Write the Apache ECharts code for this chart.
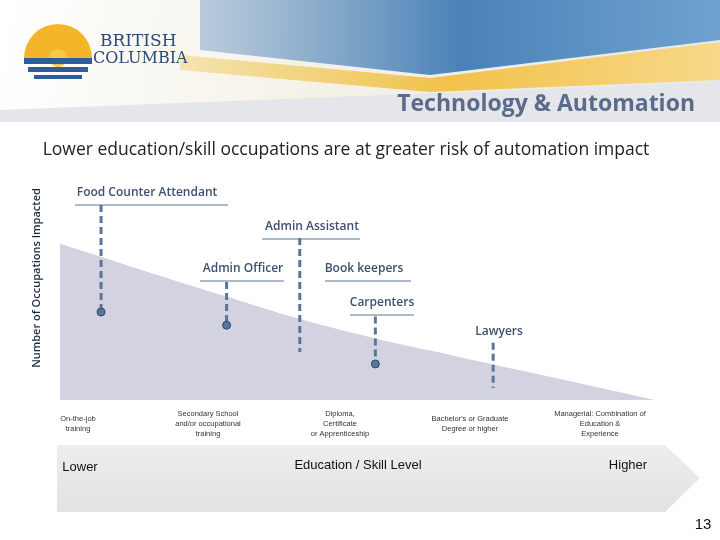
<!DOCTYPE html>
<html><head><meta charset="utf-8">
<script src="https://cdn.jsdelivr.net/npm/echarts@6/dist/echarts.min.js"></script>
<style>html,body{margin:0;background:#fff}#c{width:720px;height:540px}</style>
</head><body><div id="c"></div>
<script>
// skill level (0-100) vs relative number of occupations impacted
var curveX = [0, 7, 15, 28, 40, 53, 63, 73, 85, 100];
var curveY = [71, 65, 58, 47, 37, 28, 22, 16, 9, 0];
var occNames = ['Food Counter Attendant', 'Admin Officer', 'Admin Assistant', 'Carpenters', 'Lawyers'];
var occX = [6.9, 28, 40.3, 53, 72.8];
var occTop = [88.6, 53.6, 73.6, 38, 26];
var occBottom = [40, 34, 21.8, 16.4, 5.5];
var occDot = [true, true, false, true, false];
var levelLabels = ['On-the-job\ntraining', 'Secondary School\nand/or occupational\ntraining',
  'Diploma,\nCertificate\nor Apprenticeship', "Bachelor's or Graduate\nDegree or higher",
  'Managerial: Combination of\nEducation &\nExperience'];
var levelPx = [78, 208, 340, 470, 600];

var chart = echarts.init(document.getElementById('c'));
var lineColor = '#5b7597';

var series = [{
  type: 'line', data: curveX.map(function (x, i) { return [x, curveY[i]]; }),
  smooth: 0.4, symbol: 'none', lineStyle: { width: 0 },
  areaStyle: { color: '#d2d2e0', opacity: 1 }, z: 1
}];
occNames.forEach(function (n, i) {
  series.push({
    type: 'line', name: n, data: [[occX[i], occTop[i]], [occX[i], occBottom[i]]],
    lineStyle: { color: lineColor, width: 3, type: [7, 4] },
    symbol: function (v) { return (occDot[i] && v[1] === occBottom[i]) ? 'circle' : 'none'; },
    symbolSize: 8, itemStyle: { color: lineColor, borderColor: '#2f4a6e', borderWidth: 1 },
    z: 3
  });
});

// occupation labels with underline (pixel layout)
var labels = [
  { t: 'Food Counter Attendant', x: 147, y: 193, u: [75, 228] },
  { t: 'Admin Assistant', x: 312, y: 227, u: [262, 360] },
  { t: 'Admin Officer', x: 243, y: 269, u: [200, 284] },
  { t: 'Book keepers', x: 364, y: 269, u: [325, 411] },
  { t: 'Carpenters', x: 382, y: 303, u: [350, 414] },
  { t: 'Lawyers', x: 499, y: 332, u: null }
];
var g = [];
// header
g.push({ type: 'rect', shape: { x: 0, y: 0, width: 720, height: 122 },
  style: { fill: new echarts.graphic.LinearGradient(0, 0, 1, 1, [
    { offset: 0, color: '#ffffff' }, { offset: 0.45, color: '#f4f1e6' }, { offset: 1, color: '#e6e9ee' }]) } });
g.push({ type: 'polygon', shape: { points: [[200, 0], [720, 0], [720, 40], [430, 75], [200, 50]] },
  style: { fill: new echarts.graphic.LinearGradient(0, 0, 1, 0, [
    { offset: 0, color: 'rgba(120,160,200,0.5)' }, { offset: 0.5, color: '#4a82b8' }, { offset: 1, color: '#6fa2cf' }]) } });
g.push({ type: 'polygon', shape: { points: [[180, 55], [430, 78], [720, 42], [720, 80], [430, 92], [180, 70]] },
  style: { fill: new echarts.graphic.LinearGradient(0, 0, 1, 0, [
    { offset: 0, color: 'rgba(240,200,80,0.4)' }, { offset: 0.5, color: '#f2c24a' }, { offset: 1, color: '#f7d98a' }]) } });
g.push({ type: 'polygon', shape: { points: [[0, 110], [720, 82], [720, 122], [0, 122]] },
  style: { fill: '#e4e6ea' } });
// logo
g.push({ type: 'sector', shape: { cx: 58, cy: 58, r0: 8, r: 34, startAngle: Math.PI, endAngle: 2 * Math.PI },
  style: { fill: '#f3b62a' } });
g.push({ type: 'circle', shape: { cx: 58, cy: 58, r: 9 }, style: { fill: '#f7c948' } });
g.push({ type: 'rect', shape: { x: 24, y: 58, width: 68, height: 6 }, style: { fill: '#2e5e9a' } });
g.push({ type: 'rect', shape: { x: 28, y: 67, width: 60, height: 5 }, style: { fill: '#2e5e9a' } });
g.push({ type: 'rect', shape: { x: 34, y: 75, width: 48, height: 4 }, style: { fill: '#2e5e9a' } });
g.push({ type: 'text', style: { text: 'BRITISH', x: 100, y: 33, fill: '#2c4a7a', font: '17px "DejaVu Serif"' } });
g.push({ type: 'text', style: { text: 'COLUMBIA', x: 93, y: 51, fill: '#2c4a7a', font: '16px "DejaVu Serif"' } });
g.push({ type: 'text', style: { text: 'Technology & Automation', x: 695, y: 104, align: 'right', verticalAlign: 'middle',
  fill: '#5a6b8c', font: 'bold 23px "Open Sans"' } });
g.push({ type: 'text', style: { text: 'Lower education/skill occupations are at greater risk of automation impact',
  x: 346, y: 150, align: 'center', verticalAlign: 'middle', fill: '#222', font: '17.5px "Open Sans"' } });
g.push({ type: 'text', rotation: Math.PI / 2, x: 37, y: 278,
  style: { text: 'Number of Occupations Impacted', align: 'center', verticalAlign: 'middle', fill: '#1a2a40', font: '600 11px "Open Sans"' } });
labels.forEach(function (l) {
  g.push({ type: 'text', z: 10, style: { text: l.t, x: l.x, y: l.y, align: 'center', verticalAlign: 'middle',
    fill: '#3e5070', font: '600 12px "Open Sans"' } });
  if (l.u) g.push({ type: 'line', z: 10, shape: { x1: l.u[0], y1: l.y + 12, x2: l.u[1], y2: l.y + 12 },
    style: { stroke: lineColor, lineWidth: 1 } });
});
levelLabels.forEach(function (t, i) {
  g.push({ type: 'text', style: { text: t, x: levelPx[i], y: 424, align: 'center', verticalAlign: 'middle',
    fill: '#333', font: '7.5px "Liberation Sans"', lineHeight: 10 } });
});
// arrow band
g.push({ type: 'polygon', shape: { points: [[57, 445], [665, 445], [700, 478], [665, 512], [57, 512]] },
  style: { fill: new echarts.graphic.LinearGradient(0, 0, 0, 1, [
    { offset: 0, color: '#eeeeee' }, { offset: 1, color: '#e2e2e2' }]) } });
g.push({ type: 'text', style: { text: 'Lower', x: 80, y: 467, align: 'center', verticalAlign: 'middle', fill: '#111', font: '13px "Liberation Sans"' } });
g.push({ type: 'text', style: { text: 'Education / Skill Level', x: 358, y: 465, align: 'center', verticalAlign: 'middle', fill: '#111', font: '13px "Liberation Sans"' } });
g.push({ type: 'text', style: { text: 'Higher', x: 628, y: 465, align: 'center', verticalAlign: 'middle', fill: '#111', font: '13px "Liberation Sans"' } });
g.push({ type: 'text', style: { text: '13', x: 703, y: 525, align: 'center', verticalAlign: 'middle', fill: '#111', font: '15px "Liberation Sans"' } });

chart.setOption({
  animation: false,
  grid: { left: 60, right: 65, top: 180, bottom: 140 },
  xAxis: { type: 'value', min: 0, max: 100, show: false },
  yAxis: { type: 'value', min: 0, max: 100, show: false },
  series: series,
  graphic: { elements: g.map(function (e) { e.z = e.z || 0; e.silent = true; return e; }) }
});
</script></body></html>
